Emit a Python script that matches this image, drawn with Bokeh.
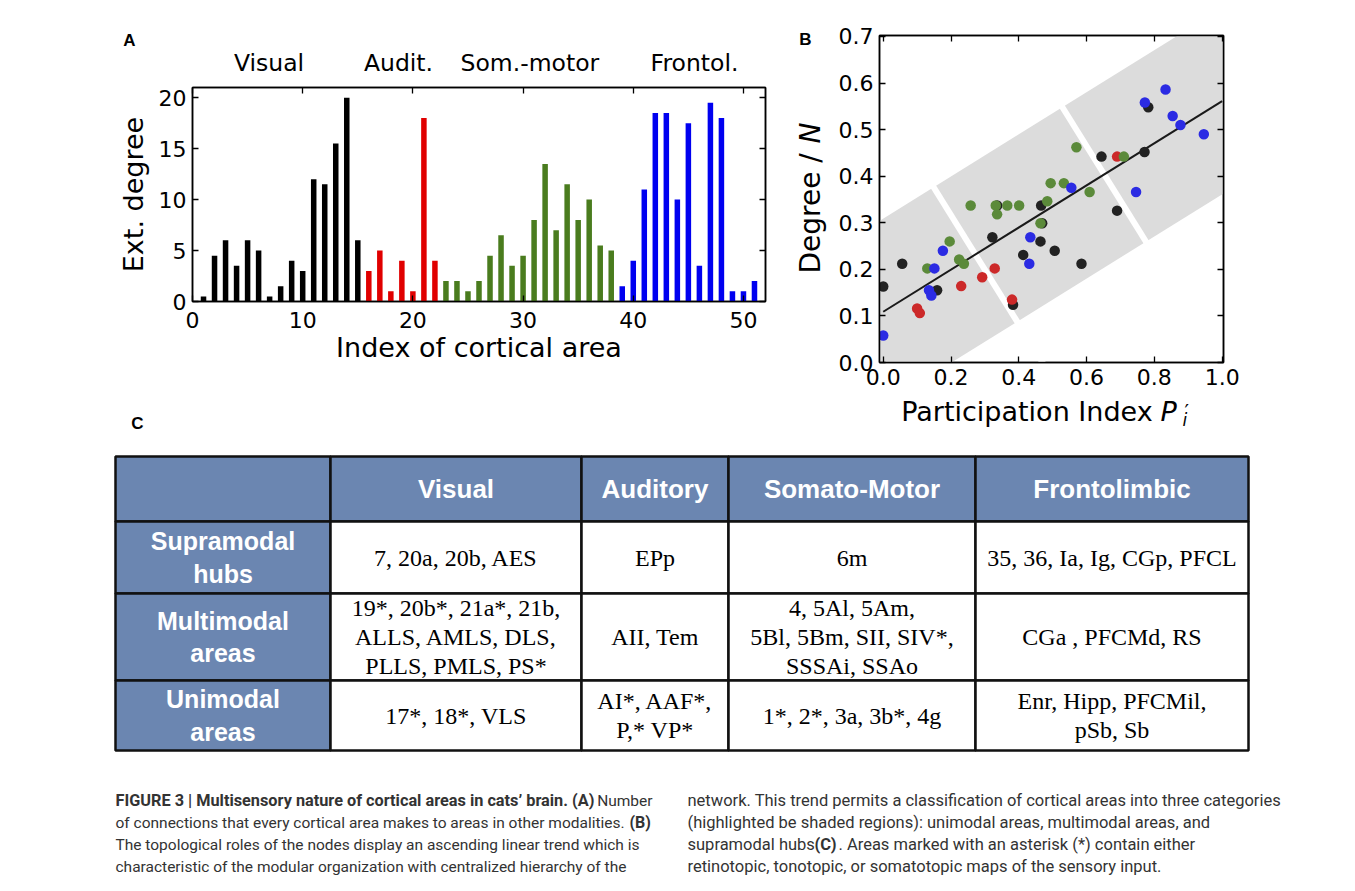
import numpy as np
from bokeh.plotting import figure
from bokeh.models import Range1d, FixedTicker, PrintfTickFormatter, LinearAxis
from bokeh.layouts import row, column
from bokeh.embed import file_html
from bokeh.resources import INLINE
from bokeh.core.properties import value

# ---------------- Panel A data ----------------
area_index = list(range(1, 52))
ext_degree = [0.5, 4.5, 6, 3.5, 6, 5, 0.5, 1.5, 4, 3, 12, 11.5, 15.5, 20, 6,
              3, 5, 1, 4, 1, 18, 4,
              2, 2, 1, 2, 4.5, 6.5, 3.5, 4.5, 8, 13.5, 7, 11.5, 8, 10, 5.5, 5,
              1.5, 4, 11, 18.5, 18.5, 10, 17.5, 3.5, 19.5, 18, 1, 1, 2]
group_names = ["Visual", "Audit.", "Som.-motor", "Frontol."]
group_sizes = [15, 7, 16, 13]
a_colors = ["#000000", "#e00000", "#4a7c1e", "#0000f0"]
a_xticks = [0, 10, 20, 30, 40, 50]
a_yticks = [0, 5, 10, 15, 20]

# ---------------- Panel B data ----------------
vis_P = [0.000, 0.056, 0.159, 0.322, 0.336, 0.383, 0.413, 0.466, 0.469, 0.464, 0.506, 0.585, 0.644, 0.690, 0.771, 0.782]
vis_deg = [0.163, 0.212, 0.155, 0.269, 0.337, 0.124, 0.231, 0.337, 0.299, 0.260, 0.240, 0.212, 0.442, 0.326, 0.452, 0.548]
aud_P = [0.100, 0.108, 0.230, 0.292, 0.329, 0.380, 0.690]
aud_deg = [0.116, 0.106, 0.164, 0.183, 0.202, 0.135, 0.442]
som_P = [0.130, 0.196, 0.224, 0.238, 0.258, 0.332, 0.336, 0.366, 0.401, 0.464, 0.484, 0.494, 0.533, 0.570, 0.609, 0.710]
som_deg = [0.202, 0.260, 0.221, 0.212, 0.337, 0.337, 0.318, 0.337, 0.337, 0.299, 0.346, 0.385, 0.385, 0.462, 0.366, 0.442]
fro_P = [0.000, 0.135, 0.142, 0.151, 0.176, 0.434, 0.431, 0.555, 0.746, 0.772, 0.833, 0.854, 0.877, 0.946]
fro_deg = [0.058, 0.155, 0.144, 0.202, 0.240, 0.269, 0.212, 0.375, 0.366, 0.558, 0.586, 0.529, 0.510, 0.490]
b_colors = ["#222222", "#cc2929", "#5b8a3a", "#2b2be3"]
fit_intercept = 0.109
fit_slope = 0.452
band_halfwidth = 0.2
band_breaks = [0.272, 0.652]
b_xticks = [0.0, 0.2, 0.4, 0.6, 0.8, 1.0]
b_yticks = [0.0, 0.1, 0.2, 0.3, 0.4, 0.5, 0.6, 0.7]

# ---------------- Table C data ----------------
col_headers = ["", "Visual", "Auditory", "Somato-Motor", "Frontolimbic"]
row_headers = ["Supramodal\nhubs", "Multimodal\nareas", "Unimodal\nareas"]
cells = [
    ["7, 20a, 20b, AES", "EPp", "6m", "35, 36, Ia, Ig, CGp, PFCL"],
    ["19*, 20b*, 21a*, 21b,\nALLS, AMLS, DLS,\nPLLS, PMLS, PS*", "AII, Tem",
     "4, 5Al, 5Am,\n5Bl, 5Bm, SII, SIV*,\nSSSAi, SSAo", "CGa , PFCMd, RS"],
    ["17*, 18*, VLS", "AI*, AAF*,\nP,* VP*", "1*, 2*, 3a, 3b*, 4g", "Enr, Hipp, PFCMil,\npSb, Sb"],
]

# ---------------- Caption ----------------
cap_text = ["FIGURE 3 | Multisensory nature of cortical areas in cats\u2019 brain. (A)", "Number",
            "of connections that every cortical area makes to areas in other modalities.", "(B)",
            "The topological roles of the nodes display an ascending linear trend which is",
            "characteristic of the modular organization with centralized hierarchy of the",
            "network. This trend permits a classification of cortical areas into three categories",
            "(highlighted be shaded regions): unimodal areas, multimodal areas, and",
            "supramodal hubs", "(C)", ". Areas marked with an asterisk (*) contain either",
            "retinotopic, tonotopic, or somatotopic maps of the sensory input."]
cap_bold = [True, False, False, True, False, False, False, False, False, True, False, False]

# ---------------- layout constants (page pixels) ----------------
cap_x = [115, 652, 115, 629, 115, 115, 687, 687, 687, 814, 838, 687]
cap_y = [800, 800, 822, 822, 844, 866, 800, 822, 844, 844, 844, 866]
cap_size = ["16.3px", "15.5px", "15.5px", "16px", "15.5px", "15.5px",
            "16.5px", "16.5px", "16.5px", "16.5px", "16.5px", "16.5px"]
cap_align = ["left", "right", "left", "left", "left", "left", "left", "left", "left", "left", "left", "left"]
col_edges = [115, 330, 581, 728, 975, 1248]
row_edges = [456, 521, 593, 680, 750]
group_label_px = [268.5, 398, 529.4, 694]
HEAD = "#6b86b1"
FONT = "DejaVu Sans"
TOP_H = 394
TOTAL_W = 1347
TOTAL_H = 883


def canvas(x0, x1, y0, y1):
    f = figure(width=x1 - x0, height=y1 - y0, x_range=Range1d(x0, x1), y_range=Range1d(y1, y0),
               output_backend="svg", toolbar_location=None, min_border=0,
               x_axis_location=None, y_axis_location=None, frame_align=False)
    f.grid.visible = False
    f.outline_line_color = None
    return f


def style_axis(ax, ticks, fmt=None, labels=True, standoff=6):
    ax.ticker = FixedTicker(ticks=ticks)
    ax.major_tick_in = 6
    ax.major_tick_out = 0
    ax.minor_tick_line_color = None
    ax.axis_line_color = "black"
    ax.axis_line_width = 1.5
    ax.major_tick_line_width = 1.3
    ax.major_label_text_font = FONT
    ax.major_label_text_font_size = "22px"
    ax.major_label_text_color = "black"
    ax.major_label_standoff = standoff
    if fmt:
        ax.formatter = PrintfTickFormatter(format=fmt)
    if not labels:
        ax.major_label_text_font_size = "0px"
        ax.major_label_standoff = 0
        ax.major_label_overrides = {t: "" for t in ticks}
    ax.axis_label_text_font = FONT
    ax.axis_label_text_font_size = "27px"
    ax.axis_label_text_font_style = "normal"
    ax.axis_label_text_color = "black"


# ---------------- strip above panel A ----------------
stripA = canvas(0, 790, 0, 78)
stripA.text(x=[129], y=[40], text=["A"], text_font=value("Liberation Sans"), text_font_style="bold",
            text_font_size="17px", text_align="center", text_baseline="middle")
stripA.text(x=group_label_px, y=[62] * 4, text=group_names, text_font=value(FONT),
            text_font_size="23.5px", text_align="center", text_baseline="middle")

# ---------------- Figure A ----------------
pA = figure(width=790, height=TOP_H - 78, x_range=Range1d(0, 52), y_range=Range1d(0, 21),
            output_backend="svg", toolbar_location=None, frame_align=False,
            min_border_left=192, min_border_right=25, min_border_top=9, min_border_bottom=TOP_H - 78 - 9 - 214)
pA.grid.visible = False
pA.outline_line_color = "black"
pA.outline_line_width = 1.5
pA.add_layout(LinearAxis(), "above")
pA.add_layout(LinearAxis(), "right")
style_axis(pA.below[0], a_xticks, standoff=10)
style_axis(pA.left[0], a_yticks)
style_axis(pA.above[0], a_xticks, labels=False)
style_axis(pA.right[0], a_yticks, labels=False)
pA.below[0].axis_label = "Index of cortical area"
pA.below[0].axis_label_standoff = 1
pA.left[0].axis_label = "Ext. degree"
pA.left[0].axis_label_standoff = 7

bar_colors = []
for c, n in zip(a_colors, group_sizes):
    bar_colors += [c] * n
pA.vbar(x=area_index, top=ext_degree, width=0.5, fill_color=bar_colors, line_color=None)

colA = column(stripA, pA, spacing=0)

# ---------------- strip left of panel B (y label) ----------------
stripB = canvas(790, 830, 0, TOP_H)
stripB.text(x=[805], y=[38.5], text=["B"], text_font=value("Liberation Sans"), text_font_style="bold",
            text_font_size="17px", text_align="center", text_baseline="middle")
stripB.text(x=[810], y=[273], text=["Degree / "], angle=np.pi / 2, text_font=value(FONT),
            text_font_size="28px", text_align="left", text_baseline="middle")
stripB.text(x=[810], y=[143], text=["N"], angle=np.pi / 2, text_font=value(FONT),
            text_font_style="italic", text_font_size="28px", text_align="left", text_baseline="middle")

# ---------------- Figure B ----------------
bx0, bx1, by0, by1 = -0.011, 1.004, 0.0, 0.702
pB = figure(width=TOTAL_W - 830, height=TOP_H, x_range=Range1d(bx0, bx1), y_range=Range1d(by0, by1),
            output_backend="svg", toolbar_location=None, frame_align=False,
            min_border_left=49, min_border_right=TOTAL_W - 830 - 49 - 344,
            min_border_top=35, min_border_bottom=TOP_H - 35 - 327)
pB.grid.visible = False
pB.outline_line_color = "black"
pB.outline_line_width = 1.5
pB.add_layout(LinearAxis(), "above")
pB.add_layout(LinearAxis(), "right")
style_axis(pB.below[0], b_xticks, fmt="%.1f", standoff=6)
style_axis(pB.left[0], b_yticks, fmt="%.1f")
style_axis(pB.above[0], b_xticks, labels=False)
style_axis(pB.right[0], b_yticks, labels=False)


def fit(x):
    return fit_intercept + fit_slope * np.asarray(x)


bxs = np.array([-0.2, 1.2])
pB.patch(x=[bxs[0], bxs[1], bxs[1], bxs[0]],
         y=[fit(bxs[0]) + band_halfwidth, fit(bxs[1]) + band_halfwidth,
            fit(bxs[1]) - band_halfwidth, fit(bxs[0]) - band_halfwidth],
         fill_color="#dcdcdc", line_color=None)
# separators perpendicular (on screen) to the fit line
px_x = 344 / (bx1 - bx0)
px_y = 327 / (by1 - by0)
sdx, sdy = -fit_slope * px_y / px_x, px_x / px_y
norm = np.hypot(sdx, sdy)
sdx, sdy = sdx / norm, sdy / norm
sep_xs, sep_ys = [], []
for b in band_breaks:
    yb = float(fit(b))
    sep_xs.append([b - 0.35 * sdx, b + 0.35 * sdx])
    sep_ys.append([yb - 0.35 * sdy, yb + 0.35 * sdy])
pB.multi_line(xs=sep_xs, ys=sep_ys, line_color="white", line_width=6)
pB.line(x=[0, 1], y=[float(fit(0)), float(fit(1))], line_color="#1a1a1a", line_width=2)
for xs_, ys_, c in [(vis_P, vis_deg, b_colors[0]), (aud_P, aud_deg, b_colors[1]),
                    (som_P, som_deg, b_colors[2]), (fro_P, fro_deg, b_colors[3])]:
    pB.scatter(x=xs_, y=ys_, size=10.5, fill_color=c, line_color=None)

top_row = row(colA, stripB, pB, spacing=0)

# ---------------- Bottom: B x-label, table, caption ----------------
pC = canvas(0, TOTAL_W, TOP_H, TOTAL_H)
pC.text(x=[900.7], y=[411], text=["Participation Index "], text_font=value(FONT),
        text_font_size="27px", text_align="left", text_baseline="middle")
pC.text(x=[1160], y=[411], text=["P"], text_font=value(FONT), text_font_style="italic",
        text_font_size="27px", text_align="left", text_baseline="middle")
pC.text(x=[1184], y=[410], text=["\u2032"], text_font=value(FONT),
        text_font_size="20px", text_align="left", text_baseline="middle")
pC.text(x=[1182], y=[419.5], text=["i"], text_font=value(FONT), text_font_style="italic",
        text_font_size="17px", text_align="left", text_baseline="middle")
pC.text(x=[137], y=[423], text=["C"], text_font=value("Liberation Sans"), text_font_style="bold",
        text_font_size="17px", text_align="center", text_baseline="middle")

qL, qR, qT, qB, qF = [], [], [], [], []
for r in range(len(row_edges) - 1):
    for c in range(len(col_edges) - 1):
        qL.append(col_edges[c]); qR.append(col_edges[c + 1])
        qT.append(row_edges[r]); qB.append(row_edges[r + 1])
        qF.append(HEAD if (r == 0 or c == 0) else "white")
pC.quad(left=qL, right=qR, top=qT, bottom=qB, fill_color=qF, line_color="#111111", line_width=2.5)

cx = [(col_edges[i] + col_edges[i + 1]) / 2 for i in range(len(col_edges) - 1)]
cy = [(row_edges[i] + row_edges[i + 1]) / 2 for i in range(len(row_edges) - 1)]
pC.text(x=cx[1:], y=[cy[0]] * 4, text=col_headers[1:], text_font=value("Liberation Sans"),
        text_font_style="bold", text_font_size="26px", text_color="white",
        text_align="center", text_baseline="middle")
pC.text(x=[cx[0]] * 3, y=cy[1:], text=row_headers, text_font=value("Liberation Sans"),
        text_font_style="bold", text_font_size="25px", text_color="white",
        text_align="center", text_baseline="middle", text_line_height=1.15)
tx, ty, tt = [], [], []
for r, rowcells in enumerate(cells):
    for c, t in enumerate(rowcells):
        tx.append(cx[c + 1]); ty.append(cy[r + 1]); tt.append(t)
pC.text(x=tx, y=ty, text=tt, text_font=value("Liberation Serif"), text_font_size="24px",
        text_color="black", text_align="center", text_baseline="middle", text_line_height=1.1)

for t, b, x, y, s, al in zip(cap_text, cap_bold, cap_x, cap_y, cap_size, cap_align):
    pC.text(x=[x], y=[y], text=[t], text_font=value("Roboto"),
            text_font_style="bold" if b else "normal", text_font_size=s,
            text_color="#333333", text_align=al, text_baseline="middle")

layout = column(top_row, pC, spacing=0)
open("out.html", "w").write(file_html(layout, INLINE))
